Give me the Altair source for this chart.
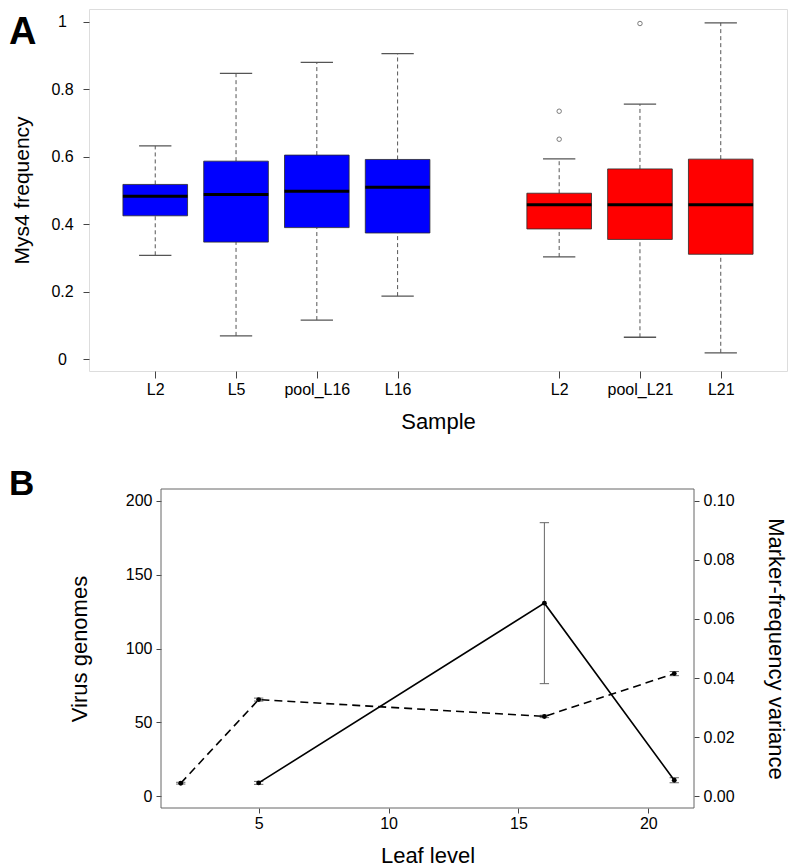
import altair as alt
import pandas as pd

# ---------------- Panel A data (box plot summaries) ----------------
samples = ["L2", "L5", "pool_L16", "L16", "L2", "pool_L21", "L21"]
positions = [1, 2, 3, 4, 6, 7, 8]
groups = ["L16 line", "L16 line", "L16 line", "L16 line", "L21 line", "L21 line", "L21 line"]
lower = [0.308, 0.069, 0.116, 0.187, 0.303, 0.065, 0.019]
q1 = [0.425, 0.347, 0.390, 0.374, 0.386, 0.355, 0.311]
median = [0.483, 0.488, 0.498, 0.510, 0.458, 0.458, 0.458]
q3 = [0.518, 0.587, 0.605, 0.592, 0.492, 0.564, 0.593]
upper = [0.632, 0.847, 0.880, 0.906, 0.594, 0.756, 0.997]
outlier_pos = [6, 6, 7]
outlier_val = [0.735, 0.652, 0.995]
y_ticks_a = [0, 0.2, 0.4, 0.6, 0.8, 1.0]

# ---------------- Panel B data ----------------
leaf_var = [2, 5, 16, 21]
variance = [0.0044, 0.0327, 0.0270, 0.0415]
variance_err = [0.0003, 0.0005, 0.0004, 0.0007]
leaf_vir = [5, 16, 21]
genomes = [9.0, 130.7, 10.8]
genomes_err = [1.0, 54.5, 1.7]
x_ticks_b = [5, 10, 15, 20]
y_ticks_left = [0, 50, 100, 150, 200]
y_ticks_right = [0.0, 0.02, 0.04, 0.06, 0.08, 0.10]

FONT = "Liberation Sans"
TICK_COLOR = "#444"
FRAME = "#666"

df_a = pd.DataFrame({
    "sample": samples, "pos": positions, "group": groups,
    "lower": lower, "q1": q1, "median": median, "q3": q3, "upper": upper,
})
df_out = pd.DataFrame({"pos": outlier_pos, "val": outlier_val})

label_expr = " : ".join(
    [f"datum.value == {p} ? '{s}'" for p, s in zip(positions, samples)]
) + " : ''"

xs_a = alt.Scale(domain=[0.18, 8.82], nice=False, zero=False)
ys_a = alt.Scale(domain=[-0.035, 1.038], nice=False, zero=False)

ax_x_a = alt.Axis(values=positions, labelExpr=label_expr, title="Sample", grid=False,
                  domain=False, tickSize=7, tickColor=TICK_COLOR, labelPadding=3,
                  labelFontSize=16, titleFontSize=22, titlePadding=14,
                  labelFont=FONT, titleFont=FONT, titleFontWeight="normal",
                  labelColor="black", titleColor="black")
ax_y_a = alt.Axis(values=y_ticks_a, format="~g", title="Mys4 frequency", grid=False,
                  domain=False, tickSize=6, tickColor=TICK_COLOR, labelPadding=21,
                  labelAlign="center", labelFontSize=16, titleFontSize=21,
                  titlePadding=18, labelFont=FONT, titleFont=FONT,
                  titleFontWeight="normal", labelColor="black", titleColor="black")

base_a = alt.Chart(df_a).transform_calculate(
    xl="datum.pos - 0.4", xr="datum.pos + 0.4",
    cl="datum.pos - 0.2", cr="datum.pos + 0.2",
)

whisk_up = base_a.mark_rule(color="#555", strokeDash=[4, 3], strokeWidth=1).encode(
    x=alt.X("pos:Q", scale=xs_a, axis=ax_x_a),
    y=alt.Y("q3:Q", scale=ys_a, axis=ax_y_a), y2="upper:Q")
whisk_lo = base_a.mark_rule(color="#555", strokeDash=[4, 3], strokeWidth=1).encode(
    x=alt.X("pos:Q", scale=xs_a, axis=ax_x_a),
    y=alt.Y("lower:Q", scale=ys_a, axis=ax_y_a), y2="q1:Q")
cap_up = base_a.mark_rule(color="#555", strokeWidth=1.3).encode(
    x=alt.X("cl:Q", scale=xs_a, axis=ax_x_a), x2="cr:Q",
    y=alt.Y("upper:Q", scale=ys_a, axis=ax_y_a))
cap_lo = base_a.mark_rule(color="#555", strokeWidth=1.3).encode(
    x=alt.X("cl:Q", scale=xs_a, axis=ax_x_a), x2="cr:Q",
    y=alt.Y("lower:Q", scale=ys_a, axis=ax_y_a))
boxes = base_a.mark_rect(stroke="#2a2a2a", strokeWidth=0.8).encode(
    x=alt.X("xl:Q", scale=xs_a, axis=ax_x_a), x2="xr:Q",
    y=alt.Y("q1:Q", scale=ys_a, axis=ax_y_a), y2="q3:Q",
    color=alt.Color("group:N", legend=None,
                    scale=alt.Scale(domain=["L16 line", "L21 line"],
                                    range=["#0000FF", "#FF0000"])))
medians = base_a.mark_rule(color="black", strokeWidth=3).encode(
    x=alt.X("xl:Q", scale=xs_a, axis=ax_x_a), x2="xr:Q",
    y=alt.Y("median:Q", scale=ys_a, axis=ax_y_a))
outliers = alt.Chart(df_out).mark_point(shape="circle", filled=False, size=20,
                                        color="#444", strokeWidth=1).encode(
    x=alt.X("pos:Q", scale=xs_a, axis=ax_x_a),
    y=alt.Y("val:Q", scale=ys_a, axis=ax_y_a))
label_a = alt.Chart(pd.DataFrame({"t": ["A"]})).mark_text(
    fontSize=38, fontWeight="bold", font=FONT, align="left", baseline="top",
    color="black").encode(text="t:N", x=alt.value(-80), y=alt.value(5))

panel_a = alt.layer(whisk_up, whisk_lo, cap_up, cap_lo, boxes, medians, outliers,
                    label_a).properties(width=698, height=362)

# ---------------- Panel B ----------------
# Panel B's plot area shares panel A's left origin; its frame starts B_LEFT px
# further right, and the left axis is moved inward by the same amount.
B_LEFT = 72
B_W = 605
B_H = 319

df_var = pd.DataFrame({"leaf": leaf_var, "v": variance, "e": variance_err})
df_vir = pd.DataFrame({"leaf": leaf_vir, "g": genomes, "e": genomes_err})

xs_b = alt.Scale(domain=[1.24, 21.76], range=[B_LEFT, B_W], nice=False, zero=False)
ys_left = alt.Scale(domain=[-8, 208], nice=False, zero=False)
ys_right = alt.Scale(domain=[-0.004, 0.104], nice=False, zero=False)

ax_x_b = alt.Axis(values=x_ticks_b, title="Leaf level", grid=False, domain=False,
                  tickSize=5, tickColor=TICK_COLOR, labelPadding=2, labelFontSize=16,
                  titleFontSize=22, titlePadding=14, titleX=(B_LEFT + B_W) / 2,
                  labelFont=FONT, titleFont=FONT,
                  titleFontWeight="normal", labelColor="black", titleColor="black")
ax_left = alt.Axis(values=y_ticks_left, title="Virus genomes", grid=False, domain=False,
                   offset=-B_LEFT,
                   tickSize=5, tickColor=TICK_COLOR, labelPadding=4, labelFontSize=16,
                   titleFontSize=22, titlePadding=34, labelFont=FONT, titleFont=FONT,
                   titleFontWeight="normal", labelColor="black", titleColor="black")
ax_right = alt.Axis(values=y_ticks_right, format=".2f", orient="right",
                    title="Marker-frequency variance", grid=False, domain=False,
                    tickSize=5, tickColor=TICK_COLOR, labelPadding=4, labelFontSize=16,
                    titleFontSize=22, titlePadding=29, labelFont=FONT, titleFont=FONT,
                    titleFontWeight="normal", labelColor="black", titleColor="black")

frame_b = alt.Chart(pd.DataFrame({"t": [0]})).mark_rect(
    fill="transparent", stroke=FRAME, strokeWidth=1).encode(
    x=alt.value(B_LEFT), x2=alt.value(B_W), y=alt.value(0), y2=alt.value(B_H))

base_vir = alt.Chart(df_vir).transform_calculate(
    lo="datum.g - datum.e", hi="datum.g + datum.e",
    cl="datum.leaf - 0.18", cr="datum.leaf + 0.18")
vir_err = base_vir.mark_rule(color="#666", strokeWidth=1).encode(
    x=alt.X("leaf:Q", scale=xs_b, axis=ax_x_b),
    y=alt.Y("lo:Q", scale=ys_left, axis=ax_left), y2="hi:Q")
vir_cap_lo = base_vir.mark_rule(color="#666", strokeWidth=1).encode(
    x=alt.X("cl:Q", scale=xs_b, axis=ax_x_b), x2="cr:Q",
    y=alt.Y("lo:Q", scale=ys_left, axis=ax_left))
vir_cap_hi = base_vir.mark_rule(color="#666", strokeWidth=1).encode(
    x=alt.X("cl:Q", scale=xs_b, axis=ax_x_b), x2="cr:Q",
    y=alt.Y("hi:Q", scale=ys_left, axis=ax_left))
vir_line = base_vir.mark_line(color="black", strokeWidth=1.6).encode(
    x=alt.X("leaf:Q", scale=xs_b, axis=ax_x_b),
    y=alt.Y("g:Q", scale=ys_left, axis=ax_left))
vir_pts = base_vir.mark_point(shape="circle", filled=True, size=24, color="black",
                              opacity=1).encode(
    x=alt.X("leaf:Q", scale=xs_b, axis=ax_x_b),
    y=alt.Y("g:Q", scale=ys_left, axis=ax_left))
left_layer = alt.layer(vir_err, vir_cap_lo, vir_cap_hi, vir_line, vir_pts)

base_var = alt.Chart(df_var).transform_calculate(
    lo="datum.v - datum.e", hi="datum.v + datum.e",
    cl="datum.leaf - 0.18", cr="datum.leaf + 0.18")
var_err = base_var.mark_rule(color="#666", strokeWidth=1).encode(
    x=alt.X("leaf:Q", scale=xs_b, axis=ax_x_b),
    y=alt.Y("lo:Q", scale=ys_right, axis=ax_right), y2="hi:Q")
var_cap_lo = base_var.mark_rule(color="#666", strokeWidth=1).encode(
    x=alt.X("cl:Q", scale=xs_b, axis=ax_x_b), x2="cr:Q",
    y=alt.Y("lo:Q", scale=ys_right, axis=ax_right))
var_cap_hi = base_var.mark_rule(color="#666", strokeWidth=1).encode(
    x=alt.X("cl:Q", scale=xs_b, axis=ax_x_b), x2="cr:Q",
    y=alt.Y("hi:Q", scale=ys_right, axis=ax_right))
var_line = base_var.mark_line(color="black", strokeWidth=1.6, strokeDash=[8, 5]).encode(
    x=alt.X("leaf:Q", scale=xs_b, axis=ax_x_b),
    y=alt.Y("v:Q", scale=ys_right, axis=ax_right))
var_pts = base_var.mark_point(shape="circle", filled=True, size=24, color="black",
                              opacity=1).encode(
    x=alt.X("leaf:Q", scale=xs_b, axis=ax_x_b),
    y=alt.Y("v:Q", scale=ys_right, axis=ax_right))
right_layer = alt.layer(var_err, var_cap_lo, var_cap_hi, var_line, var_pts)

label_b = alt.Chart(pd.DataFrame({"t": ["B"]})).mark_text(
    fontSize=35, fontWeight="bold", font=FONT, align="left", baseline="top",
    color="black").encode(text="t:N", x=alt.value(-80), y=alt.value(-22))

panel_b = alt.layer(frame_b, left_layer, right_layer, label_b).resolve_scale(
    y="independent").properties(width=B_W, height=B_H,
                                view=alt.ViewBackground(stroke="transparent"))

chart = alt.vconcat(panel_a, panel_b, spacing=33, padding=0).configure_view(
    stroke=FRAME, strokeWidth=1).configure(font=FONT)

chart.save("out.html", embed_options={"renderer": "svg", "actions": False})
